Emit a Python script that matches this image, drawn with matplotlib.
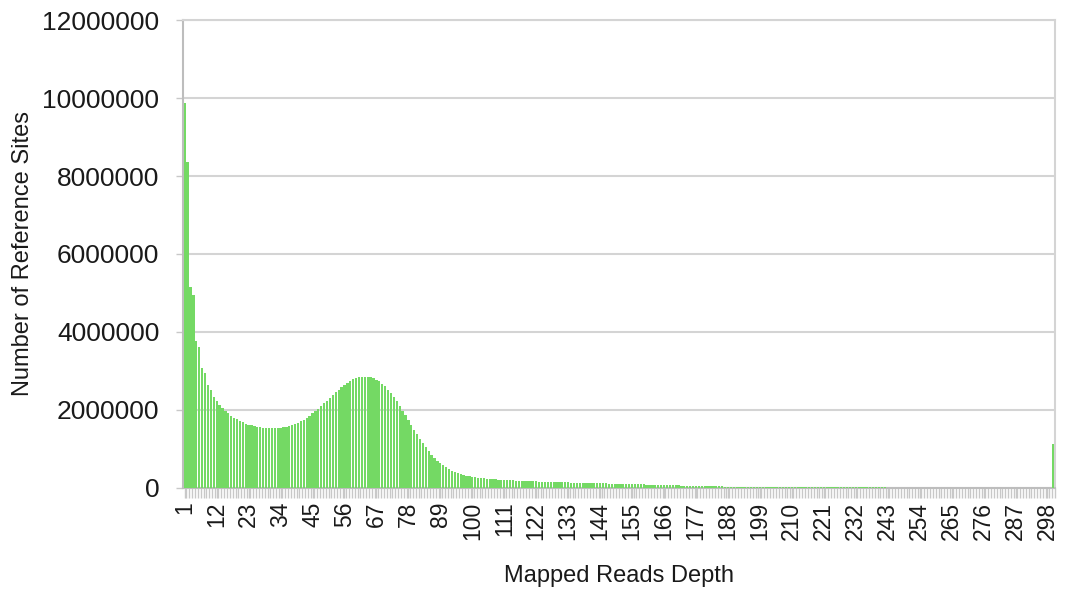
import matplotlib.pyplot as plt
import numpy as np

plt.rcParams['font.family'] = ['Liberation Sans', 'DejaVu Sans']

# read depth 1..300 (last bin collects everything >= 300)
depth = list(range(1, 301))

# number of reference sites per depth, in thousands
sites_k = [
    # 1-20
    9870, 8370, 5150, 4950, 3760, 3620, 3070, 2950, 2640, 2510,
    2330, 2220, 2120, 2040, 1970, 1910, 1850, 1800, 1760, 1720,
    # 21-40
    1680, 1650, 1620, 1600, 1580, 1565, 1550, 1540, 1535, 1530,
    1528, 1530, 1535, 1545, 1555, 1570, 1590, 1610, 1640, 1670,
    # 41-60
    1710, 1750, 1800, 1850, 1910, 1970, 2030, 2100, 2170, 2240,
    2310, 2380, 2450, 2520, 2580, 2640, 2690, 2740, 2780, 2810,
    # 61-80
    2835, 2850, 2855, 2850, 2835, 2810, 2775, 2730, 2670, 2600,
    2520, 2430, 2330, 2220, 2100, 1980, 1860, 1740, 1610, 1490,
    # 81-100
    1370, 1250, 1140, 1040, 940, 850, 770, 700, 640, 580,
    530, 480, 440, 405, 375, 350, 328, 308, 292, 278,
    # 101-120
    268, 258, 249, 241, 234, 227, 221, 215, 210, 205,
    200, 196, 192, 188, 184, 181, 178, 175, 172, 169,
    # 121-140
    166, 163, 160, 157, 154, 152, 150, 147, 145, 143,
    141, 139, 137, 135, 133, 131, 129, 127, 125, 123,
    # 141-160
    121, 119, 117, 115, 113, 111, 109, 107, 105, 103,
    101, 99, 97, 95, 93, 91, 89, 87, 85, 83,
    # 161-180
    81, 79, 77, 75, 73, 71, 69, 67, 65, 63,
    61, 59, 57, 55, 53, 51, 49, 47, 45, 43,
    # 181-200
    41, 39, 37, 36, 35, 34, 33, 32, 31, 30,
    29, 28, 27, 26, 25, 24, 23, 22, 21, 20,
    # 201-220
    19, 18, 18, 17, 17, 16, 16, 15, 15, 15,
    14, 14, 14, 13, 13, 13, 12, 12, 12, 12,
    # 221-240
    11, 11, 11, 11, 10, 10, 10, 10, 10, 9,
    9, 9, 9, 9, 9, 8, 8, 8, 8, 8,
    # 241-260
    8, 8, 7, 7, 7, 7, 7, 7, 7, 7,
    6, 6, 6, 6, 6, 6, 6, 6, 6, 6,
    # 261-280
    6, 5, 5, 5, 5, 5, 5, 5, 5, 5,
    5, 5, 5, 5, 5, 5, 5, 4, 4, 4,
    # 281-300
    4, 4, 4, 4, 4, 4, 4, 4, 4, 4,
    4, 4, 4, 4, 4, 4, 4, 4, 4, 1130,
]
sites = np.array(sites_k) * 1000

xtick_labels = list(range(1, 301, 11))
ytick_values = list(range(0, 12000001, 2000000))

fig = plt.figure(figsize=(10.7, 5.92), dpi=100)
ax = fig.add_axes([0.171, 0.176, 0.815, 0.790])

ax.bar(depth, sites, width=0.78, color='#74d964', edgecolor='none', zorder=3)

ax.set_xlim(0.4, 300.6)
ax.set_ylim(0, 12000000)

# gridlines
ax.set_yticks(ytick_values)
ax.set_yticklabels([str(v) for v in ytick_values])
ax.yaxis.grid(True, color='#d4d4d4', linewidth=1.5, zorder=0)
ax.set_axisbelow(True)

# category ticks under every bar, labels every 11th
ax.set_xticks(xtick_labels)
ax.set_xticklabels([str(v) for v in xtick_labels], rotation=90)
ax.set_xticks([d + 0.5 for d in depth], minor=True)
ax.tick_params(axis='x', which='both', length=7, width=1, color='#c8c8c8',
               labelsize=16.5, labelcolor='#1a1a1a', pad=3)
ax.tick_params(axis='y', which='major', length=5, width=1, color='#c8c8c8',
               labelsize=19, labelcolor='#1a1a1a', pad=12)

for side in ['top', 'right']:
    ax.spines[side].set_color('#d4d4d4')
    ax.spines[side].set_linewidth(1.5)
for side in ['left', 'bottom']:
    ax.spines[side].set_color('#bdbdbd')
    ax.spines[side].set_linewidth(1.5)

ax.set_xlabel('Mapped Reads Depth', fontsize=17, color='#1a1a1a', labelpad=18)
ax.set_ylabel('Number of Reference Sites', fontsize=17, color='#1a1a1a', labelpad=6)

fig.savefig('out.png', dpi=100, facecolor='white')
